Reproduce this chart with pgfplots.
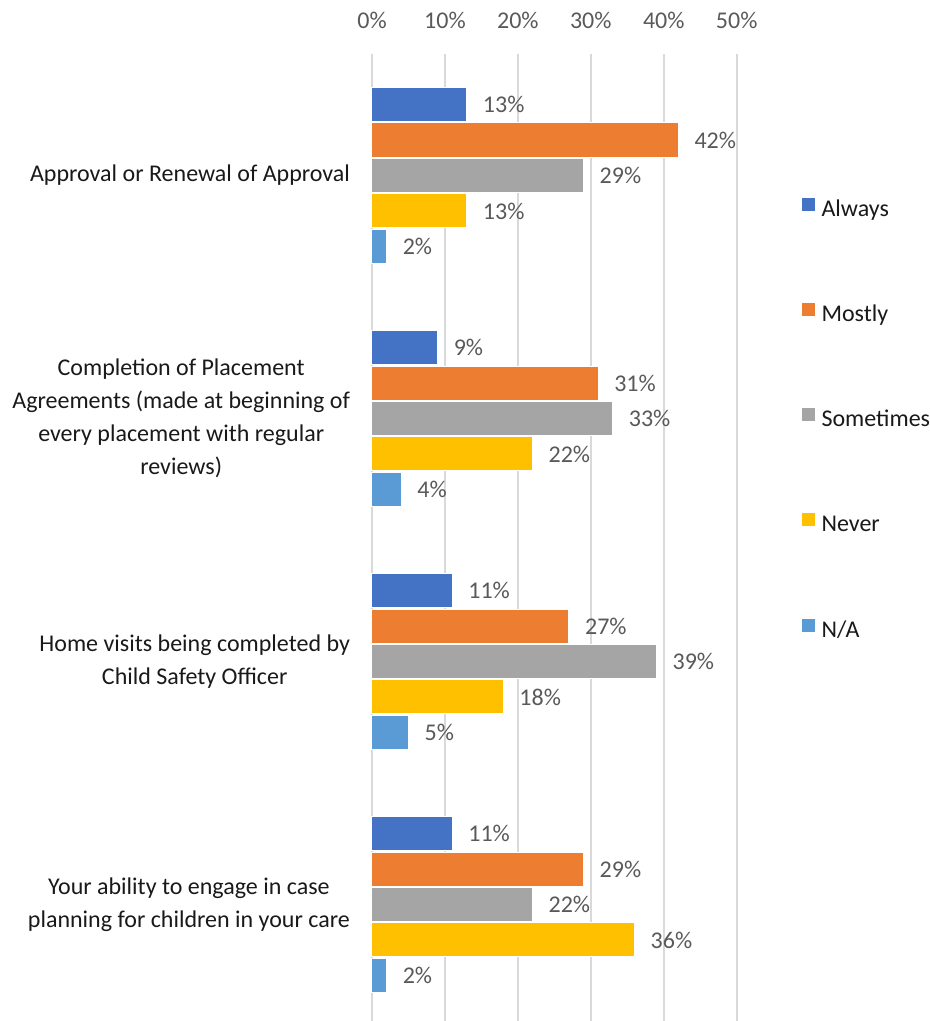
\documentclass[border=0pt]{standalone}
\usepackage{fontspec}
\setmainfont{Carlito}
\usepackage{pgfplots}
\pgfplotsset{compat=1.18}

\definecolor{always}{HTML}{4472C4}
\definecolor{mostly}{HTML}{ED7D31}
\definecolor{sometimes}{HTML}{A5A5A5}
\definecolor{never}{HTML}{FFC000}
\definecolor{na}{HTML}{5B9BD5}
\definecolor{txtgray}{HTML}{595959}
\definecolor{gridgray}{HTML}{D9D9D9}

\begin{document}
\begin{tikzpicture}
\useasboundingbox (-186pt,2.5pt) rectangle (279pt,513pt);
\begin{axis}[
    at={(0,0)}, anchor=south west,
    scale only axis, width=182.35pt, height=486pt,
    xbar, bar width=0.14,
    xmin=0, xmax=50, ymin=-0.5, ymax=3.5,
    xtick={0,10,...,50},
    xticklabel pos=top,
    xticklabel={\pgfmathprintnumber{\tick}\%},
    ytick={0,1,2,3},
    yticklabels={
        {Your ability to engage in case\\planning for children in your care},
        {Home visits being completed by\\Child Safety Officer},
        {Completion of Placement\\Agreements (made at beginning of\\every placement with regular\\reviews)},
        {Approval or Renewal of Approval}},
    xmajorgrids,
    major grid style={color=gridgray, line width=0.9pt},
    axis line style={draw=none},
    major tick length=0pt,
    /pgf/number format/assume math mode=true,
    xticklabel style={font=\fontsize{12}{14}\selectfont, text=txtgray, yshift=9pt},
    yticklabel style={font=\fontsize{12}{16.6}\selectfont, text=black!90,
        align=center, anchor=east, xshift=-7.5pt},
    nodes near coords={\pgfmathprintnumber{\pgfplotspointmeta}\%},
    every node near coord/.append style={font=\fontsize{12}{14}\selectfont,
        text=txtgray, anchor=west, xshift=4.5pt},
    legend style={draw=none, fill=none, inner sep=0pt, outer sep=0pt,
        at={(1.176,0.853)}, anchor=north west,
        font=\fontsize{12}{14}\selectfont, text=black!90,
        row sep=39.85pt,
        nodes={inner ysep=0pt, inner xsep=2.85pt, text height=9pt, text depth=3pt}},
    legend cell align=left,
    legend image code/.code={\fill[#1] (0pt,-0.5pt) rectangle (7pt,6.5pt);},
    clip=false,
]
\addplot[fill=always, draw=white, line width=0.5pt, bar shift=0.292]
    coordinates {(13,3) (9,2) (11,1) (11,0)};
\addplot[fill=mostly, draw=white, line width=0.5pt, bar shift=0.146]
    coordinates {(42,3) (31,2) (27,1) (29,0)};
\addplot[fill=sometimes, draw=white, line width=0.5pt, bar shift=0]
    coordinates {(29,3) (33,2) (39,1) (22,0)};
\addplot[fill=never, draw=white, line width=0.5pt, bar shift=-0.146]
    coordinates {(13,3) (22,2) (18,1) (36,0)};
\addplot[fill=na, draw=white, line width=0.5pt, bar shift=-0.292]
    coordinates {(2,3) (4,2) (5,1) (2,0)};
\legend{Always, Mostly, Sometimes, Never, N/A}
\end{axis}
\end{tikzpicture}
\end{document}
